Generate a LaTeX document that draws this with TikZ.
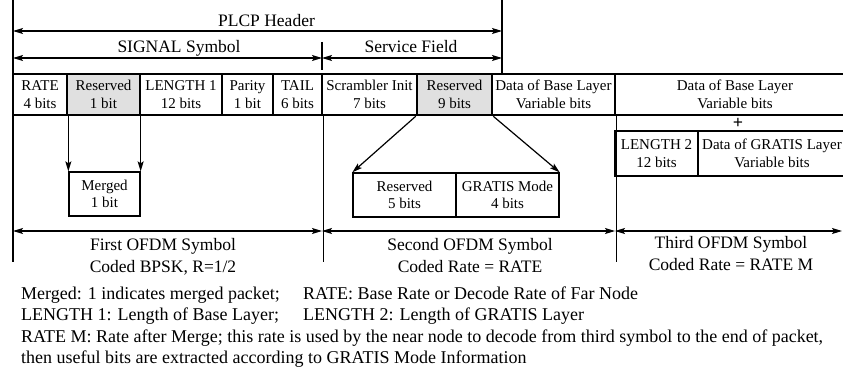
\documentclass[tikz,border=0pt]{standalone}
\usepackage{fontspec}
\setmainfont{Liberation Serif}
\usetikzlibrary{arrows.meta}
\definecolor{cellgray}{RGB}{224,224,224}
\tikzset{
  cell/.style={draw, line width=2.5pt, minimum height=41pt, inner sep=0pt,
    align=center, font=\fontsize{15}{17.5}\selectfont},
  subcell/.style={draw, line width=1.3pt, minimum height=44pt, inner sep=0pt,
    align=center, font=\fontsize{15}{17.5}\selectfont},
  shaded/.style={fill=cellgray},
  rule/.style={line width=1.3pt},
  arr/.style={line width=1.2pt, -{Stealth[length=10pt,width=6pt,inset=2pt]}},
  span/.style={line width=1.2pt,
    {Stealth[length=10pt,width=6pt,inset=2pt]}-{Stealth[length=10pt,width=6pt,inset=2pt]}},
  lab/.style={font=\fontsize{17.5}{21}\selectfont, inner sep=0pt, anchor=base},
  note/.style={font=\fontsize{18}{21}\selectfont, inner sep=0pt, anchor=base west},
}
\begin{document}
\begin{tikzpicture}[x=1pt, y=-1pt]
\useasboundingbox (0,0) rectangle (843,377);
\fill[white] (0,0) rectangle (843,377);

% frame coordinates
\coordinate (topL) at (13,0);
\coordinate (botL) at (13,262);
\coordinate (plcpT) at (502,0);
\coordinate (plcpB) at (502,74);
\coordinate (tickT) at (322,42);
\coordinate (tickB) at (322,70);

% first row of fields
\node[cell, minimum width=54pt] (rate) at (40,94.5) {RATE\\4 bits};
\node[cell, shaded, minimum width=73pt] (resv1) at (103.5,94.5) {Reserved\\1 bit};
\node[cell, minimum width=82pt] (len1) at (181,94.5) {LENGTH 1\\12 bits};
\node[cell, minimum width=51pt] (par) at (247.5,94.5) {Parity\\1 bit};
\node[cell, minimum width=49pt] (tail) at (297.5,94.5) {TAIL\\6 bits};
\node[cell, minimum width=95pt] (scr) at (369.5,94.5) {Scrambler Init\\7 bits};
\node[cell, shaded, minimum width=75pt] (resv9) at (454.5,94.5) {Reserved\\9 bits};
\node[cell, minimum width=123pt] (base1) at (553.5,94.5) {Data of Base Layer\\Variable bits};
\node[cell, minimum width=240pt] (base2) at (735,94.5) {Data of Base Layer\\Variable bits};

% third symbol extra fields
\node[font=\fontsize{18}{21}\selectfont\bfseries, inner sep=0pt] (plus) at (738,123) {+};
\node[cell, minimum width=83pt, minimum height=45pt] (len2) at (656.5,153.5) {LENGTH 2\\12 bits};
\node[cell, minimum width=148pt, minimum height=45pt] (gdata) at (772,153.5) {Data of GRATIS Layer\\Variable bits};

% expanded sub-fields
\node[subcell, minimum width=71pt] (merged) at (104.5,194) {Merged\\1 bit};
\node[subcell, minimum width=103pt] (res5) at (404.5,195) {Reserved\\5 bits};
\node[subcell, minimum width=103pt] (gmode) at (507.5,195) {GRATIS Mode\\4 bits};

% vertical boundaries
\draw[rule] (topL) -- (botL);
\draw[rule] (plcpT) -- (plcpB);
\draw[rule] (tickT) -- (tickB);
\draw[rule] (tail.south east) -- (tail.south east |- botL);
\draw[rule] (base1.south east) -- (base1.south east |- botL);

% mapping arrows
\draw[arr] (merged.north west |- resv1.south) -- (merged.north west);
\draw[arr] (merged.north east |- resv1.south) -- (merged.north east);
\draw[arr] (resv9.south west) -- (res5.north west);
\draw[arr] (resv9.south east) -- (gmode.north east);

% header spans
\coordinate (hL) at (13,31);
\coordinate (hR) at (502,31);
\coordinate (sL) at (13,58);
\coordinate (sM) at (322,58);
\coordinate (sR) at (502,58);
\draw[span] (hL) -- (hR);
\draw[span] (sL) -- (sM);
\draw[span] (sM) -- (sR);
\node[lab] (plcp) at (266.5,27) {PLCP Header};
\node[lab] (sig) at (179,52.5) {SIGNAL Symbol};
\node[lab] (svc) at (411,52.5) {Service Field};

% OFDM symbol spans
\coordinate (oA) at (13,231);
\coordinate (oB) at (322,231);
\coordinate (oC) at (615,231);
\coordinate (oD) at (842,231);
\draw[span] (oA) -- (oB);
\draw[span] (oB) -- (oC);
\draw[span] (oC) -- (oD);
\node[lab] (o1a) at (163,250) {First OFDM Symbol};
\node[lab] (o1b) at (163,272) {Coded BPSK, R=1/2};
\node[lab] (o2a) at (470,250) {Second OFDM Symbol};
\node[lab] (o2b) at (470,272) {Coded Rate = RATE};
\node[lab] (o3a) at (731,248) {Third OFDM Symbol};
\node[lab] (o3b) at (731,270) {Coded Rate = RATE M};

% legend
\node[note] (n1) at (21,299) {Merged: 1 indicates merged packet;};
\node[note] (n2) at (303,299) {RATE: Base Rate or Decode Rate of Far Node};
\node[note] (n3) at (21,320.5) {LENGTH 1: Length of Base Layer;};
\node[note] (n4) at (303,320.5) {LENGTH 2: Length of GRATIS Layer};
\node[note] (n5) at (21,342) {RATE M: Rate after Merge; this rate is used by the near node to decode from third symbol to the end of packet,};
\node[note] (n6) at (21,363.5) {then useful bits are extracted according to GRATIS Mode Information};
\end{tikzpicture}
\end{document}
